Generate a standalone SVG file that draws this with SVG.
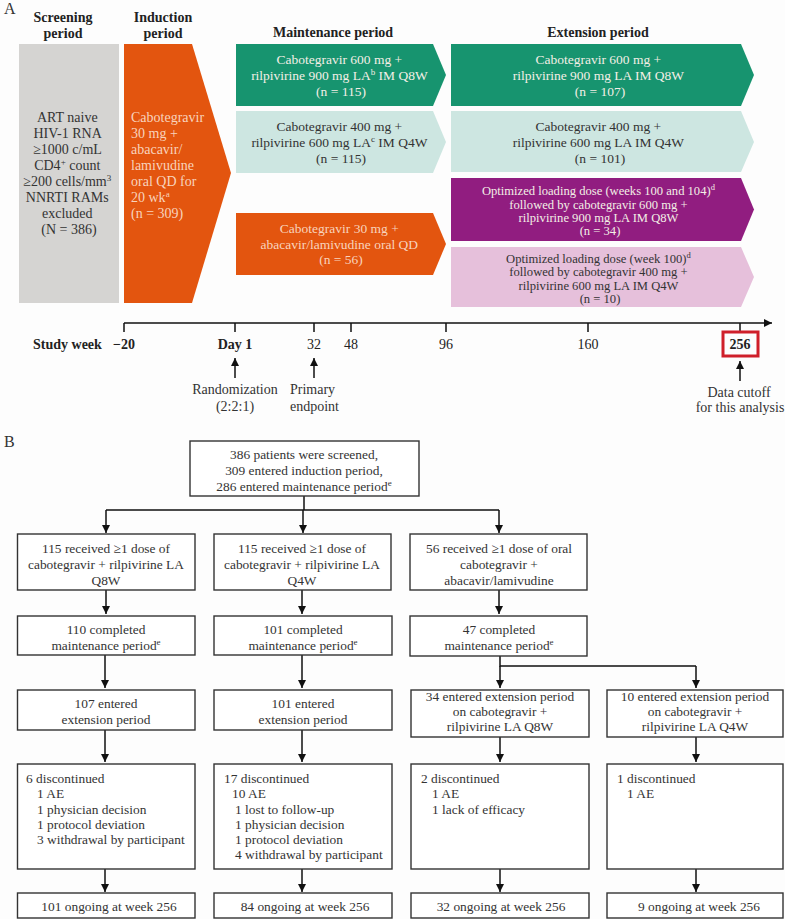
<svg xmlns="http://www.w3.org/2000/svg" width="785" height="919" viewBox="0 0 785 919">
<defs>
<style>
text{font-family:"Liberation Serif","Times New Roman",serif;}
.h{font-size:14px;font-weight:bold;fill:#222;text-anchor:middle;}
.t{font-size:13.5px;text-anchor:middle;}
.s{font-size:12.6px;}
.lt{fill:#f3efe6;}
.dk{fill:#333;}
.or{fill:#f8d3bd;}
.lab{font-size:14px;fill:#333;}
.box{fill:#fff;stroke:#333;stroke-width:1.4;}
.b{font-size:13.4px;fill:#333;}
.c{text-anchor:middle;}
.ln{stroke:#111;stroke-width:1.5;fill:none;}
</style>
<marker id="ah" viewBox="0 0 10 10" refX="10" refY="5" markerWidth="8" markerHeight="8" markerUnits="userSpaceOnUse" orient="auto">
<path d="M0,0 L10,5 L0,10 z" fill="#111"/>
</marker>
</defs>
<rect width="785" height="919" fill="#fdfdfd"/>

<!-- Part A -->
<text x="4" y="14" style="font-size:16px;fill:#333">A</text>
<text class="h" x="63" y="22">Screening</text>
<text class="h" x="63" y="38">period</text>
<text class="h" x="163" y="22">Induction</text>
<text class="h" x="163" y="38">period</text>
<text class="h" x="333" y="37">Maintenance period</text>
<text class="h" x="598" y="37">Extension period</text>

<g id="screening">
<rect x="19" y="44" width="100" height="259" fill="#d5d4d2"/>
<text class="t dk" style="font-size:14px">
<tspan x="69" y="122">ART naive</tspan>
<tspan x="69" y="138">HIV-1 RNA</tspan>
<tspan x="69" y="154">≥1000 c/mL</tspan>
<tspan x="69" y="170">CD4<tspan font-size="9" dy="-5">+</tspan><tspan dy="5"> count</tspan></tspan>
<tspan x="69" y="186">≥200 cells/mm<tspan font-size="9" dy="-5">3</tspan></tspan>
<tspan x="69" y="202">NNRTI RAMs</tspan>
<tspan x="69" y="218">excluded</tspan>
<tspan x="69" y="234">(N = 386)</tspan>
</text>
</g>

<g id="induction">
<polygon points="124,44 192,44 231,173 192,303 124,303" fill="#e3550f"/>
<text class="or" style="font-size:14px">
<tspan x="131" y="122">Cabotegravir</tspan>
<tspan x="131" y="138">30 mg +</tspan>
<tspan x="131" y="154">abacavir/</tspan>
<tspan x="131" y="170">lamivudine</tspan>
<tspan x="131" y="186">oral QD for</tspan>
<tspan x="131" y="202">20 wk<tspan font-size="9" dy="-5">a</tspan></tspan>
<tspan x="131" y="218">(n = 309)</tspan>
</text>
</g>

<g id="maint-q8w">
<polygon points="236,44 433,44 446,75 433,106 236,106" fill="#17946f"/>
<text class="t lt">
<tspan x="341" y="64">Cabotegravir 600 mg +</tspan>
<tspan x="341" y="80">rilpivirine 900 mg LA<tspan font-size="9" dy="-5">b</tspan><tspan dy="5"> IM Q8W</tspan></tspan>
<tspan x="341" y="96">(n = 115)</tspan>
</text>
</g>

<g id="maint-q4w">
<polygon points="236,111 433,111 446,142 433,173 236,173" fill="#cde6e1"/>
<text class="t dk">
<tspan x="341" y="131">Cabotegravir 400 mg +</tspan>
<tspan x="341" y="147">rilpivirine 600 mg LA<tspan font-size="9" dy="-5">c</tspan><tspan dy="5"> IM Q4W</tspan></tspan>
<tspan x="341" y="163">(n = 115)</tspan>
</text>
</g>

<g id="maint-oral">
<polygon points="236,213 433,213 446,244 433,275 236,275" fill="#e3550f"/>
<text class="t or">
<tspan x="341" y="233">Cabotegravir 30 mg +</tspan>
<tspan x="341" y="249">abacavir/lamivudine oral QD</tspan>
<tspan x="341" y="264">(n = 56)</tspan>
</text>
</g>

<g id="ext-q8w">
<polygon points="451,44 741,44 754,75 741,106 451,106" fill="#17946f"/>
<text class="t lt">
<tspan x="600" y="64">Cabotegravir 600 mg +</tspan>
<tspan x="600" y="80">rilpivirine 900 mg LA IM Q8W</tspan>
<tspan x="600" y="96">(n = 107)</tspan>
</text>
</g>

<g id="ext-q4w">
<polygon points="451,111 741,111 754,142 741,172 451,172" fill="#cde6e1"/>
<text class="t dk">
<tspan x="600" y="131">Cabotegravir 400 mg +</tspan>
<tspan x="600" y="147">rilpivirine 600 mg LA IM Q4W</tspan>
<tspan x="600" y="163">(n = 101)</tspan>
</text>
</g>

<g id="ext-old-q8w">
<polygon points="451,178 741,178 754,209.5 741,241 451,241" fill="#911d80"/>
<text class="t s lt">
<tspan x="600" y="195">Optimized loading dose (weeks 100 and 104)<tspan font-size="8.5" dy="-5">d</tspan></tspan>
<tspan x="600" y="209">followed by cabotegravir 600 mg +</tspan>
<tspan x="600" y="222">rilpivirine 900 mg LA IM Q8W</tspan>
<tspan x="600" y="235">(n = 34)</tspan>
</text>
</g>

<g id="ext-old-q4w">
<polygon points="451,247 741,247 754,277 741,307 451,307" fill="#e6c0db"/>
<text class="t s dk">
<tspan x="600" y="263">Optimized loading dose (week 100)<tspan font-size="8.5" dy="-5">d</tspan></tspan>
<tspan x="600" y="276">followed by cabotegravir 400 mg +</tspan>
<tspan x="600" y="290">rilpivirine 600 mg LA IM Q4W</tspan>
<tspan x="600" y="303">(n = 10)</tspan>
</text>
</g>

<g id="timeline">
<line class="ln" x1="124" y1="323" x2="772" y2="323" marker-end="url(#ah)"/>
<path class="ln" d="M124,323V332M235,323V332M314,323V332M351,323V332M446,323V332M588,323V332M740,323V332"/>
<text class="h" x="33" y="349" style="text-anchor:start">Study week</text>
<text class="h" x="124" y="349">−20</text>
<text class="h" x="235" y="349">Day 1</text>
<text class="lab c" x="314" y="349" style="fill:#222">32</text>
<text class="lab c" x="351" y="349" style="fill:#222">48</text>
<text class="lab c" x="446" y="349" style="fill:#222">96</text>
<text class="lab c" x="588" y="349" style="fill:#222">160</text>
<text class="h" x="740" y="349">256</text>
<rect x="723" y="332" width="35" height="24" fill="none" stroke="#cf1f2a" stroke-width="3"/>
<line class="ln" x1="235" y1="378" x2="235" y2="358" stroke-width="2" marker-end="url(#ah)"/>
<line class="ln" x1="314" y1="378" x2="314" y2="358" stroke-width="2" marker-end="url(#ah)"/>
<line class="ln" x1="740" y1="381" x2="740" y2="361" stroke-width="2" marker-end="url(#ah)"/>
<text class="lab c" x="235" y="394">Randomization</text>
<text class="lab c" x="235" y="411">(2:2:1)</text>
<text class="lab" x="290" y="394">Primary</text>
<text class="lab" x="290" y="411">endpoint</text>
<text class="lab c" x="739" y="397">Data cutoff</text>
<text class="lab c" x="740" y="412">for this analysis</text>
</g>

<!-- Part B -->
<text x="4" y="447" style="font-size:16px;fill:#333">B</text>

<g id="connectors">
<path class="ln" d="M304,496V510M106,510H499"/>
<line class="ln" x1="106" y1="510" x2="106" y2="533" marker-end="url(#ah)"/>
<line class="ln" x1="303" y1="510" x2="303" y2="533" marker-end="url(#ah)"/>
<line class="ln" x1="499" y1="510" x2="499" y2="533" marker-end="url(#ah)"/>
<line class="ln" x1="106" y1="590" x2="106" y2="614" marker-end="url(#ah)"/>
<line class="ln" x1="302" y1="590" x2="302" y2="614" marker-end="url(#ah)"/>
<line class="ln" x1="499" y1="590" x2="499" y2="614" marker-end="url(#ah)"/>
<line class="ln" x1="105" y1="655" x2="105" y2="688" marker-end="url(#ah)"/>
<line class="ln" x1="302" y1="655" x2="302" y2="688" marker-end="url(#ah)"/>
<path class="ln" d="M500,656V666H696"/>
<line class="ln" x1="500" y1="666" x2="500" y2="688" marker-end="url(#ah)"/>
<line class="ln" x1="696" y1="666" x2="696" y2="688" marker-end="url(#ah)"/>
<line class="ln" x1="105" y1="730" x2="105" y2="762" marker-end="url(#ah)"/>
<line class="ln" x1="302" y1="730" x2="302" y2="762" marker-end="url(#ah)"/>
<line class="ln" x1="500" y1="737" x2="500" y2="762" marker-end="url(#ah)"/>
<line class="ln" x1="696" y1="737" x2="696" y2="762" marker-end="url(#ah)"/>
<line class="ln" x1="105" y1="869" x2="105" y2="892" marker-end="url(#ah)"/>
<line class="ln" x1="302" y1="869" x2="302" y2="892" marker-end="url(#ah)"/>
<line class="ln" x1="500" y1="869" x2="500" y2="892" marker-end="url(#ah)"/>
<line class="ln" x1="696" y1="869" x2="696" y2="892" marker-end="url(#ah)"/>
</g>

<g id="screened">
<rect class="box" x="190" y="441" width="229" height="55"/>
<text class="b c"><tspan x="304" y="459">386 patients were screened,</tspan><tspan x="304" y="475">309 entered induction period,</tspan><tspan x="304" y="491">286 entered maintenance period<tspan font-size="9" dy="-5">e</tspan></tspan></text>
</g>

<g id="recv-q8w">
<rect class="box" x="17.5" y="534" width="177.5" height="56"/>
<text class="b c"><tspan x="106" y="553">115 received ≥1 dose of</tspan><tspan x="106" y="569">cabotegravir + rilpivirine LA</tspan><tspan x="106" y="585">Q8W</tspan></text>
</g>
<g id="recv-q4w">
<rect class="box" x="214" y="534" width="177" height="56"/>
<text class="b c"><tspan x="302" y="553">115 received ≥1 dose of</tspan><tspan x="302" y="569">cabotegravir + rilpivirine LA</tspan><tspan x="302" y="585">Q4W</tspan></text>
</g>
<g id="recv-oral">
<rect class="box" x="410" y="534" width="177" height="56"/>
<text class="b c"><tspan x="499" y="553">56 received ≥1 dose of oral</tspan><tspan x="499" y="569">cabotegravir +</tspan><tspan x="499" y="585">abacavir/lamivudine</tspan></text>
</g>

<g id="comp-q8w">
<rect class="box" x="17.5" y="616" width="177.5" height="39"/>
<text class="b c"><tspan x="106" y="634">110 completed</tspan><tspan x="106" y="650">maintenance period<tspan font-size="9" dy="-5">e</tspan></tspan></text>
</g>
<g id="comp-q4w">
<rect class="box" x="214" y="616" width="178" height="39"/>
<text class="b c"><tspan x="303" y="634">101 completed</tspan><tspan x="303" y="650">maintenance period<tspan font-size="9" dy="-5">e</tspan></tspan></text>
</g>
<g id="comp-oral">
<rect class="box" x="410" y="616" width="177" height="40"/>
<text class="b c"><tspan x="499" y="634">47 completed</tspan><tspan x="499" y="650">maintenance period<tspan font-size="9" dy="-5">e</tspan></tspan></text>
</g>

<g id="ext-q8w-b">
<rect class="box" x="17.5" y="690" width="177.5" height="40"/>
<text class="b c"><tspan x="106" y="708">107 entered</tspan><tspan x="106" y="724">extension period</tspan></text>
</g>
<g id="ext-q4w-b">
<rect class="box" x="214" y="690" width="178" height="40"/>
<text class="b c"><tspan x="303" y="708">101 entered</tspan><tspan x="303" y="724">extension period</tspan></text>
</g>
<g id="ext-oq8w-b">
<rect class="box" x="411" y="690" width="178" height="47"/>
<text class="b c"><tspan x="500" y="701">34 entered extension period</tspan><tspan x="500" y="716">on cabotegravir +</tspan><tspan x="500" y="731">rilpivirine LA Q8W</tspan></text>
</g>
<g id="ext-oq4w-b">
<rect class="box" x="607" y="690" width="176" height="47"/>
<text class="b c"><tspan x="695" y="701">10 entered extension period</tspan><tspan x="695" y="716">on cabotegravir +</tspan><tspan x="695" y="731">rilpivirine LA Q4W</tspan></text>
</g>

<g id="disc-q8w">
<rect class="box" x="17.5" y="764" width="177.5" height="105"/>
<text class="b"><tspan x="26" y="783">6 discontinued</tspan><tspan x="37" y="798">1 AE</tspan><tspan x="37" y="814">1 physician decision</tspan><tspan x="37" y="829">1 protocol deviation</tspan><tspan x="37" y="844">3 withdrawal by participant</tspan></text>
</g>
<g id="disc-q4w">
<rect class="box" x="214" y="764" width="178" height="105"/>
<text class="b"><tspan x="224" y="783">17 discontinued</tspan><tspan x="232" y="798">10 AE</tspan><tspan x="235" y="814">1 lost to follow-up</tspan><tspan x="235" y="829">1 physician decision</tspan><tspan x="235" y="844">1 protocol deviation</tspan><tspan x="235" y="859">4 withdrawal by participant</tspan></text>
</g>
<g id="disc-oq8w">
<rect class="box" x="411" y="764" width="178" height="105"/>
<text class="b"><tspan x="421" y="783">2 discontinued</tspan><tspan x="432" y="798">1 AE</tspan><tspan x="432" y="814">1 lack of efficacy</tspan></text>
</g>
<g id="disc-oq4w">
<rect class="box" x="607" y="764" width="176" height="105"/>
<text class="b"><tspan x="617" y="783">1 discontinued</tspan><tspan x="627" y="798">1 AE</tspan></text>
</g>

<g id="ong-q8w">
<rect class="box" x="17.5" y="893" width="177.5" height="25"/>
<text class="b c" x="109" y="911">101 ongoing at week 256</text>
</g>
<g id="ong-q4w">
<rect class="box" x="214" y="893" width="178" height="25"/>
<text class="b c" x="305" y="911">84 ongoing at week 256</text>
</g>
<g id="ong-oq8w">
<rect class="box" x="411" y="893" width="178" height="25"/>
<text class="b c" x="501" y="911">32 ongoing at week 256</text>
</g>
<g id="ong-oq4w">
<rect class="box" x="607" y="893" width="176" height="25"/>
<text class="b c" x="699" y="911">9 ongoing at week 256</text>
</g>
</svg>
